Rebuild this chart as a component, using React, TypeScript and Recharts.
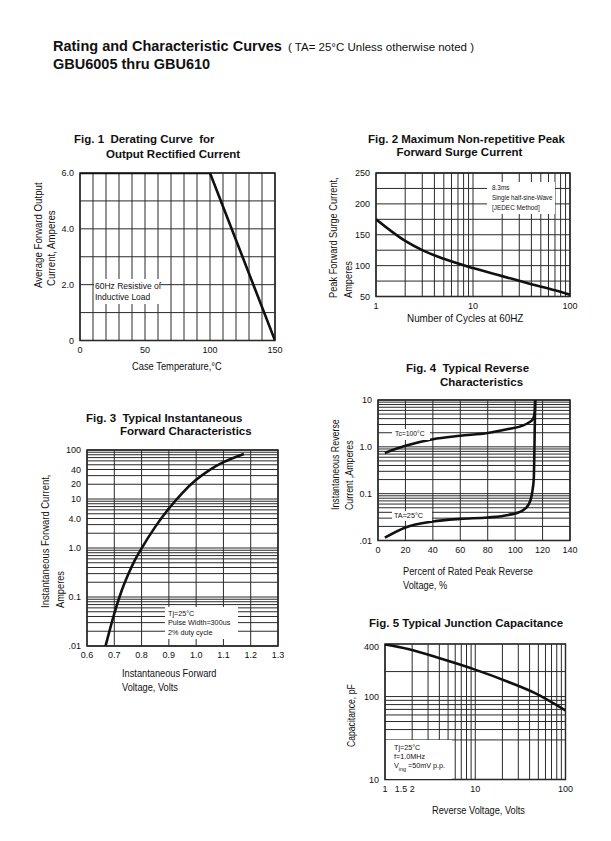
import React from 'react';
import { LineChart, Line, XAxis, YAxis, ReferenceLine, ReferenceArea } from 'recharts';

// Fig. 1 derating curve
const fig1Temp = [0, 100, 150];
const fig1Amps = [6, 6, 0];
const fig1XTicks = [0, 50, 100, 150];
const fig1YTicks = [0, 2, 4, 6];
const fig1XGrid = [0, 10, 20, 30, 40, 50, 60, 70, 80, 90, 100, 110, 120, 130, 140, 150];
const fig1YGrid = [0, 1, 2, 3, 4, 5, 6];

// Fig. 2 surge current
const fig2Cycles = [1, 2, 3, 5, 10, 20, 40, 70, 100];
const fig2Amps = [175, 140, 125, 111, 96, 83, 70, 60, 53];
const fig2XTicks = [1, 10, 100];
const fig2YTicks = [50, 100, 150, 200, 250];
const fig2YGrid = [50, 75, 100, 125, 150, 175, 200, 225, 250];

// Fig. 3 forward characteristics
const fig3Volts = [0.668, 0.7, 0.725, 0.75, 0.775, 0.8, 0.85, 0.9, 0.95, 1.0, 1.05, 1.1, 1.175];
const fig3Amps = [0.01, 0.046, 0.125, 0.28, 0.56, 0.98, 2.7, 6.4, 13.4, 24.6, 39.4, 56.4, 83];
const fig3XTicks = [0.6, 0.7, 0.8, 0.9, 1.0, 1.1, 1.2, 1.3];
const fig3YTicks = [0.01, 0.1, 1, 4, 10, 20, 40, 100];

// Fig. 4 reverse characteristics
const fig4Tc100Pct = [5, 20, 40, 60, 80, 95, 105, 110, 113, 114.3, 114.6];
const fig4Tc100Amps = [0.74, 1.05, 1.45, 1.72, 1.98, 2.4, 2.8, 3.3, 3.9, 5.5, 10];
const fig4Ta25Pct = [5, 20, 40, 60, 80, 95, 105, 110, 112.5, 113.6, 114.1, 114.6];
const fig4Ta25Amps = [0.0115, 0.019, 0.0255, 0.029, 0.031, 0.035, 0.043, 0.06, 0.11, 0.21, 1.07, 10];
const fig4XTicks = [0, 20, 40, 60, 80, 100, 120, 140];
const fig4YTicks = [0.01, 0.1, 1, 10];

// Fig. 5 junction capacitance
const fig5Volts = [1, 1.8, 4.3, 9.6, 23, 46, 100];
const fig5Pf = [425, 374, 283, 214, 151, 110, 68];
const fig5XTicks = [1, 1.5, 2, 10, 100];
const fig5YTicks = [10, 100, 400];
const fig5YGrid = [10, 100, 30, 40, 50, 60, 70, 80, 90, 200];

const FONT = "'Liberation Sans Narrow', 'Liberation Sans', Arial, sans-serif";
const BOLD = "'Liberation Sans', Arial, sans-serif";
const INK = '#111';
const GRID = '#2a2a2a';

const AXIS_W = 40;
const TOP = 6;
const RIGHT = 8;
const AXIS_H = 22;

// grid lines at 1..9 x each decade
function decadeLines(fromExp: number, toExp: number) {
  const out: number[] = [];
  for (let e = fromExp; e < toExp; e++) {
    for (let k = 1; k < 10; k++) out.push(+(k * Math.pow(10, e)).toPrecision(3));
  }
  out.push(Math.pow(10, toExp));
  return out;
}

const zip = (xs: number[], ys: number[]) => xs.map((x, i) => ({ x, y: ys[i] }));

type Rect = { x: number; y: number; w: number; h: number };

interface PanelProps {
  rect: Rect;
  xDomain: [number, number];
  yDomain: [number, number];
  xLog?: boolean;
  yLog?: boolean;
  xTicks: number[];
  yTicks: number[];
  xFmt?: (v: number) => string;
  yFmt?: (v: number) => string;
  xGrid: number[];
  yGrid: number[];
  series: { x: number; y: number }[][];
  curve: 'linear' | 'monotone';
}

const tickStyle = { fontSize: 9, fill: INK, fontFamily: FONT };

function Panel(p: PanelProps) {
  return (
    <div style={{ position: 'absolute', left: p.rect.x - AXIS_W, top: p.rect.y - TOP }}>
      <LineChart
        width={AXIS_W + p.rect.w + RIGHT}
        height={TOP + p.rect.h + AXIS_H}
        margin={{ top: TOP, right: RIGHT, bottom: 0, left: 0 }}
      >
        <XAxis
          type="number"
          dataKey="x"
          domain={p.xDomain}
          scale={p.xLog ? 'log' : 'linear'}
          ticks={p.xTicks}
          tickFormatter={p.xFmt}
          interval={0}
          height={AXIS_H}
          axisLine={false}
          tickLine={false}
          tickMargin={0}
          allowDataOverflow
          tick={tickStyle}
        />
        <YAxis
          type="number"
          domain={p.yDomain}
          scale={p.yLog ? 'log' : 'linear'}
          ticks={p.yTicks}
          tickFormatter={p.yFmt}
          interval={0}
          width={AXIS_W}
          axisLine={false}
          tickLine={false}
          tickMargin={0}
          allowDataOverflow
          tick={tickStyle}
        />
        {p.yGrid.map((v) => (
          <ReferenceLine key={'h' + v} y={v} stroke={GRID} strokeWidth={1} />
        ))}
        {p.xGrid.map((v) => (
          <ReferenceLine key={'v' + v} x={v} stroke={GRID} strokeWidth={1} />
        ))}
        <ReferenceArea
          x1={p.xDomain[0]}
          x2={p.xDomain[1]}
          y1={p.yDomain[0]}
          y2={p.yDomain[1]}
          fill="none"
          stroke={INK}
          strokeWidth={1.4}
        />
        {p.series.map((s, i) => (
          <Line
            key={i}
            data={s}
            dataKey="y"
            type={p.curve}
            stroke={INK}
            strokeWidth={2.6}
            dot={false}
            isAnimationActive={false}
          />
        ))}
      </LineChart>
    </div>
  );
}

interface TxtProps {
  x: number;
  y: number;
  size?: number;
  bold?: boolean;
  sx?: number;
  children: React.ReactNode;
}

function Txt({ x, y, size = 10.5, bold = false, sx = 1, children }: TxtProps) {
  const lh = size * 1.2;
  return (
    <div
      style={{
        position: 'absolute',
        left: x,
        top: y - lh / 2,
        fontSize: size,
        lineHeight: `${lh}px`,
        fontFamily: bold ? BOLD : FONT,
        fontWeight: bold ? 'bold' : 'normal',
        whiteSpace: 'nowrap',
        color: INK,
        transform: sx === 1 ? undefined : `scaleX(${sx})`,
        transformOrigin: '0 50%',
      }}
    >
      {children}
    </div>
  );
}

function VTxt({ cx, yStart, size = 10.5, sx = 0.88, children }: { cx: number; yStart: number; size?: number; sx?: number; children: React.ReactNode }) {
  const lh = size * 1.2;
  return (
    <div
      style={{
        position: 'absolute',
        left: cx - lh / 2,
        top: yStart,
        fontSize: size,
        lineHeight: `${lh}px`,
        fontFamily: FONT,
        whiteSpace: 'nowrap',
        color: INK,
        transform: `rotate(-90deg) scaleX(${sx})`,
        transformOrigin: '0 0',
      }}
    >
      {children}
    </div>
  );
}

function Box({ x, y, w, h }: { x: number; y: number; w: number; h: number }) {
  return <div style={{ position: 'absolute', left: x, top: y, width: w, height: h, background: '#fff' }} />;
}

const fmtFixed1 = (v: number) => (v === 0 ? '0' : v.toFixed(1));
const fmtLogSmall = (v: number) => (v === 0.01 ? '.01' : v < 10 ? v.toFixed(1) : String(v));

export default function App() {
  return (
    <div style={{ position: 'absolute', left: 0, top: 0, width: 611, height: 841, background: '#fff', overflow: 'hidden' }}>
      {/* header */}
      <Txt x={53} y={47} size={14.5} bold>
        Rating and Characteristic Curves
      </Txt>
      <Txt x={288} y={47.5} size={11.5}>
        ( TA= 25°C Unless otherwise noted )
      </Txt>
      <Txt x={53} y={65} size={14.5} bold>
        GBU6005 thru GBU610
      </Txt>

      {/* Fig. 1 */}
      <Txt x={74} y={140} size={11.5} bold>Fig. 1&nbsp; Derating Curve&nbsp; for</Txt>
      <Txt x={106} y={154.5} size={11.5} bold>Output Rectified Current</Txt>
      <Panel
        rect={{ x: 80, y: 172.5, w: 195, h: 167.5 }}
        xDomain={[0, 150]}
        yDomain={[0, 6]}
        xTicks={fig1XTicks}
        yTicks={fig1YTicks}
        yFmt={fmtFixed1}
        xGrid={fig1XGrid}
        yGrid={fig1YGrid}
        series={[zip(fig1Temp, fig1Amps)]}
        curve="linear"
      />
      <Box x={94} y={279} w={67} h={25} />
      <Txt x={95} y={286} size={8.5}>60Hz Resistive of</Txt>
      <Txt x={95} y={297.5} size={8.5}>Inductive Load</Txt>
      <VTxt cx={38.5} yStart={288} sx={0.92}>Average Forward Output</VTxt>
      <VTxt cx={51} yStart={286} sx={0.92}>Current, Amperes</VTxt>
      <Txt x={132} y={366} sx={0.89}>Case Temperature,°C</Txt>

      {/* Fig. 2 */}
      <Txt x={368} y={140} size={11.5} bold>Fig. 2 Maximum Non-repetitive Peak</Txt>
      <Txt x={396.5} y={153} size={11.5} bold>Forward Surge Current</Txt>
      <Panel
        rect={{ x: 376, y: 172.5, w: 194, h: 123.5 }}
        xDomain={[1, 100]}
        yDomain={[50, 250]}
        xLog
        xTicks={fig2XTicks}
        yTicks={fig2YTicks}
        xGrid={decadeLines(0, 2)}
        yGrid={fig2YGrid}
        series={[zip(fig2Cycles, fig2Amps)]}
        curve="monotone"
      />
      <Box x={487} y={182} w={68} h={32} />
      <Txt x={491.5} y={188} size={8} sx={0.8}>8.3ms</Txt>
      <Txt x={491.5} y={198} size={8} sx={0.78}>Single half-sine-Wave</Txt>
      <Txt x={491.5} y={208} size={8} sx={0.8}>[JEDEC Method]</Txt>
      <VTxt cx={333.5} yStart={298}>Peak Forward Surge Current,</VTxt>
      <VTxt cx={348} yStart={298}>Amperes</VTxt>
      <Txt x={407} y={318.5} sx={0.94}>Number of Cycles at 60HZ</Txt>

      {/* Fig. 3 */}
      <Txt x={86} y={418.5} size={11.5} bold>Fig. 3&nbsp; Typical Instantaneous</Txt>
      <Txt x={120} y={432} size={11.5} bold>Forward Characteristics</Txt>
      <Panel
        rect={{ x: 86.5, y: 450, w: 191, h: 196 }}
        xDomain={[0.6, 1.3]}
        yDomain={[0.01, 100]}
        yLog
        xTicks={fig3XTicks}
        yTicks={fig3YTicks}
        xFmt={(v) => v.toFixed(1)}
        yFmt={fmtLogSmall}
        xGrid={fig3XTicks}
        yGrid={decadeLines(-2, 2)}
        series={[zip(fig3Volts, fig3Amps)]}
        curve="monotone"
      />
      <Box x={165} y={606.5} w={73} h={32} />
      <Txt x={168} y={613.5} size={8} sx={0.9}>Tj=25°C</Txt>
      <Txt x={168} y={623} size={8} sx={0.9}>Pulse Width=300us</Txt>
      <Txt x={168} y={632.5} size={8} sx={0.9}>2% duty cycle</Txt>
      <VTxt cx={45} yStart={608} sx={0.9}>Instantaneous Forward Current,</VTxt>
      <VTxt cx={60} yStart={608}>Amperes</VTxt>
      <Txt x={121.5} y={673.5} sx={0.88}>Instantaneous Forward</Txt>
      <Txt x={121.5} y={687.5} sx={0.88}>Voltage, Volts</Txt>

      {/* Fig. 4 */}
      <Txt x={406} y={369} size={11.5} bold>Fig. 4&nbsp; Typical Reverse</Txt>
      <Txt x={440} y={382.5} size={11.5} bold>Characteristics</Txt>
      <Panel
        rect={{ x: 378, y: 399.5, w: 192, h: 140.5 }}
        xDomain={[0, 140]}
        yDomain={[0.01, 10]}
        yLog
        xTicks={fig4XTicks}
        yTicks={fig4YTicks}
        yFmt={fmtLogSmall}
        xGrid={fig4XTicks}
        yGrid={decadeLines(-2, 1)}
        series={[zip(fig4Tc100Pct, fig4Tc100Amps), zip(fig4Ta25Pct, fig4Ta25Amps)]}
        curve="monotone"
      />
      <Box x={392} y={428.5} w={38} h={11} />
      <Txt x={394.5} y={434} size={8} sx={0.85}>Tc=100°C</Txt>
      <Box x={392} y={510.5} w={40} h={10} />
      <Txt x={394} y={515.5} size={8} sx={0.9}>TA=25°C</Txt>
      <VTxt cx={335} yStart={510} sx={0.84}>Instantaneous Reverse</VTxt>
      <VTxt cx={349} yStart={510} sx={0.84}>Current ,Amperes</VTxt>
      <Txt x={403} y={571.5} sx={0.88}>Percent of Rated Peak Reverse</Txt>
      <Txt x={403} y={585} sx={0.88}>Voltage, %</Txt>

      {/* Fig. 5 */}
      <Txt x={369} y={623.5} size={11.5} bold>Fig. 5 Typical Junction Capacitance</Txt>
      <Panel
        rect={{ x: 385, y: 644, w: 180.5, h: 135.5 }}
        xDomain={[1, 100]}
        yDomain={[10, 430]}
        xLog
        yLog
        xTicks={fig5XTicks}
        yTicks={fig5YTicks}
        xGrid={decadeLines(0, 2)}
        yGrid={fig5YGrid}
        series={[zip(fig5Volts, fig5Pf)]}
        curve="monotone"
      />
      <Box x={386} y={739.5} w={66} h={39} />
      <Txt x={394} y={747.5} size={8} sx={0.9}>Tj=25°C</Txt>
      <Txt x={394} y={757} size={8} sx={0.9}>f=1.0MHz</Txt>
      <Txt x={394} y={766} size={8} sx={0.9}>
        V<sub style={{ fontSize: 6 }}>ing</sub> =50mV p.p.
      </Txt>
      <VTxt cx={351.5} yStart={747} sx={0.82}>Capacitance, pF</VTxt>
      <Txt x={431.5} y={810} sx={0.88}>Reverse Voltage, Volts</Txt>
    </div>
  );
}
